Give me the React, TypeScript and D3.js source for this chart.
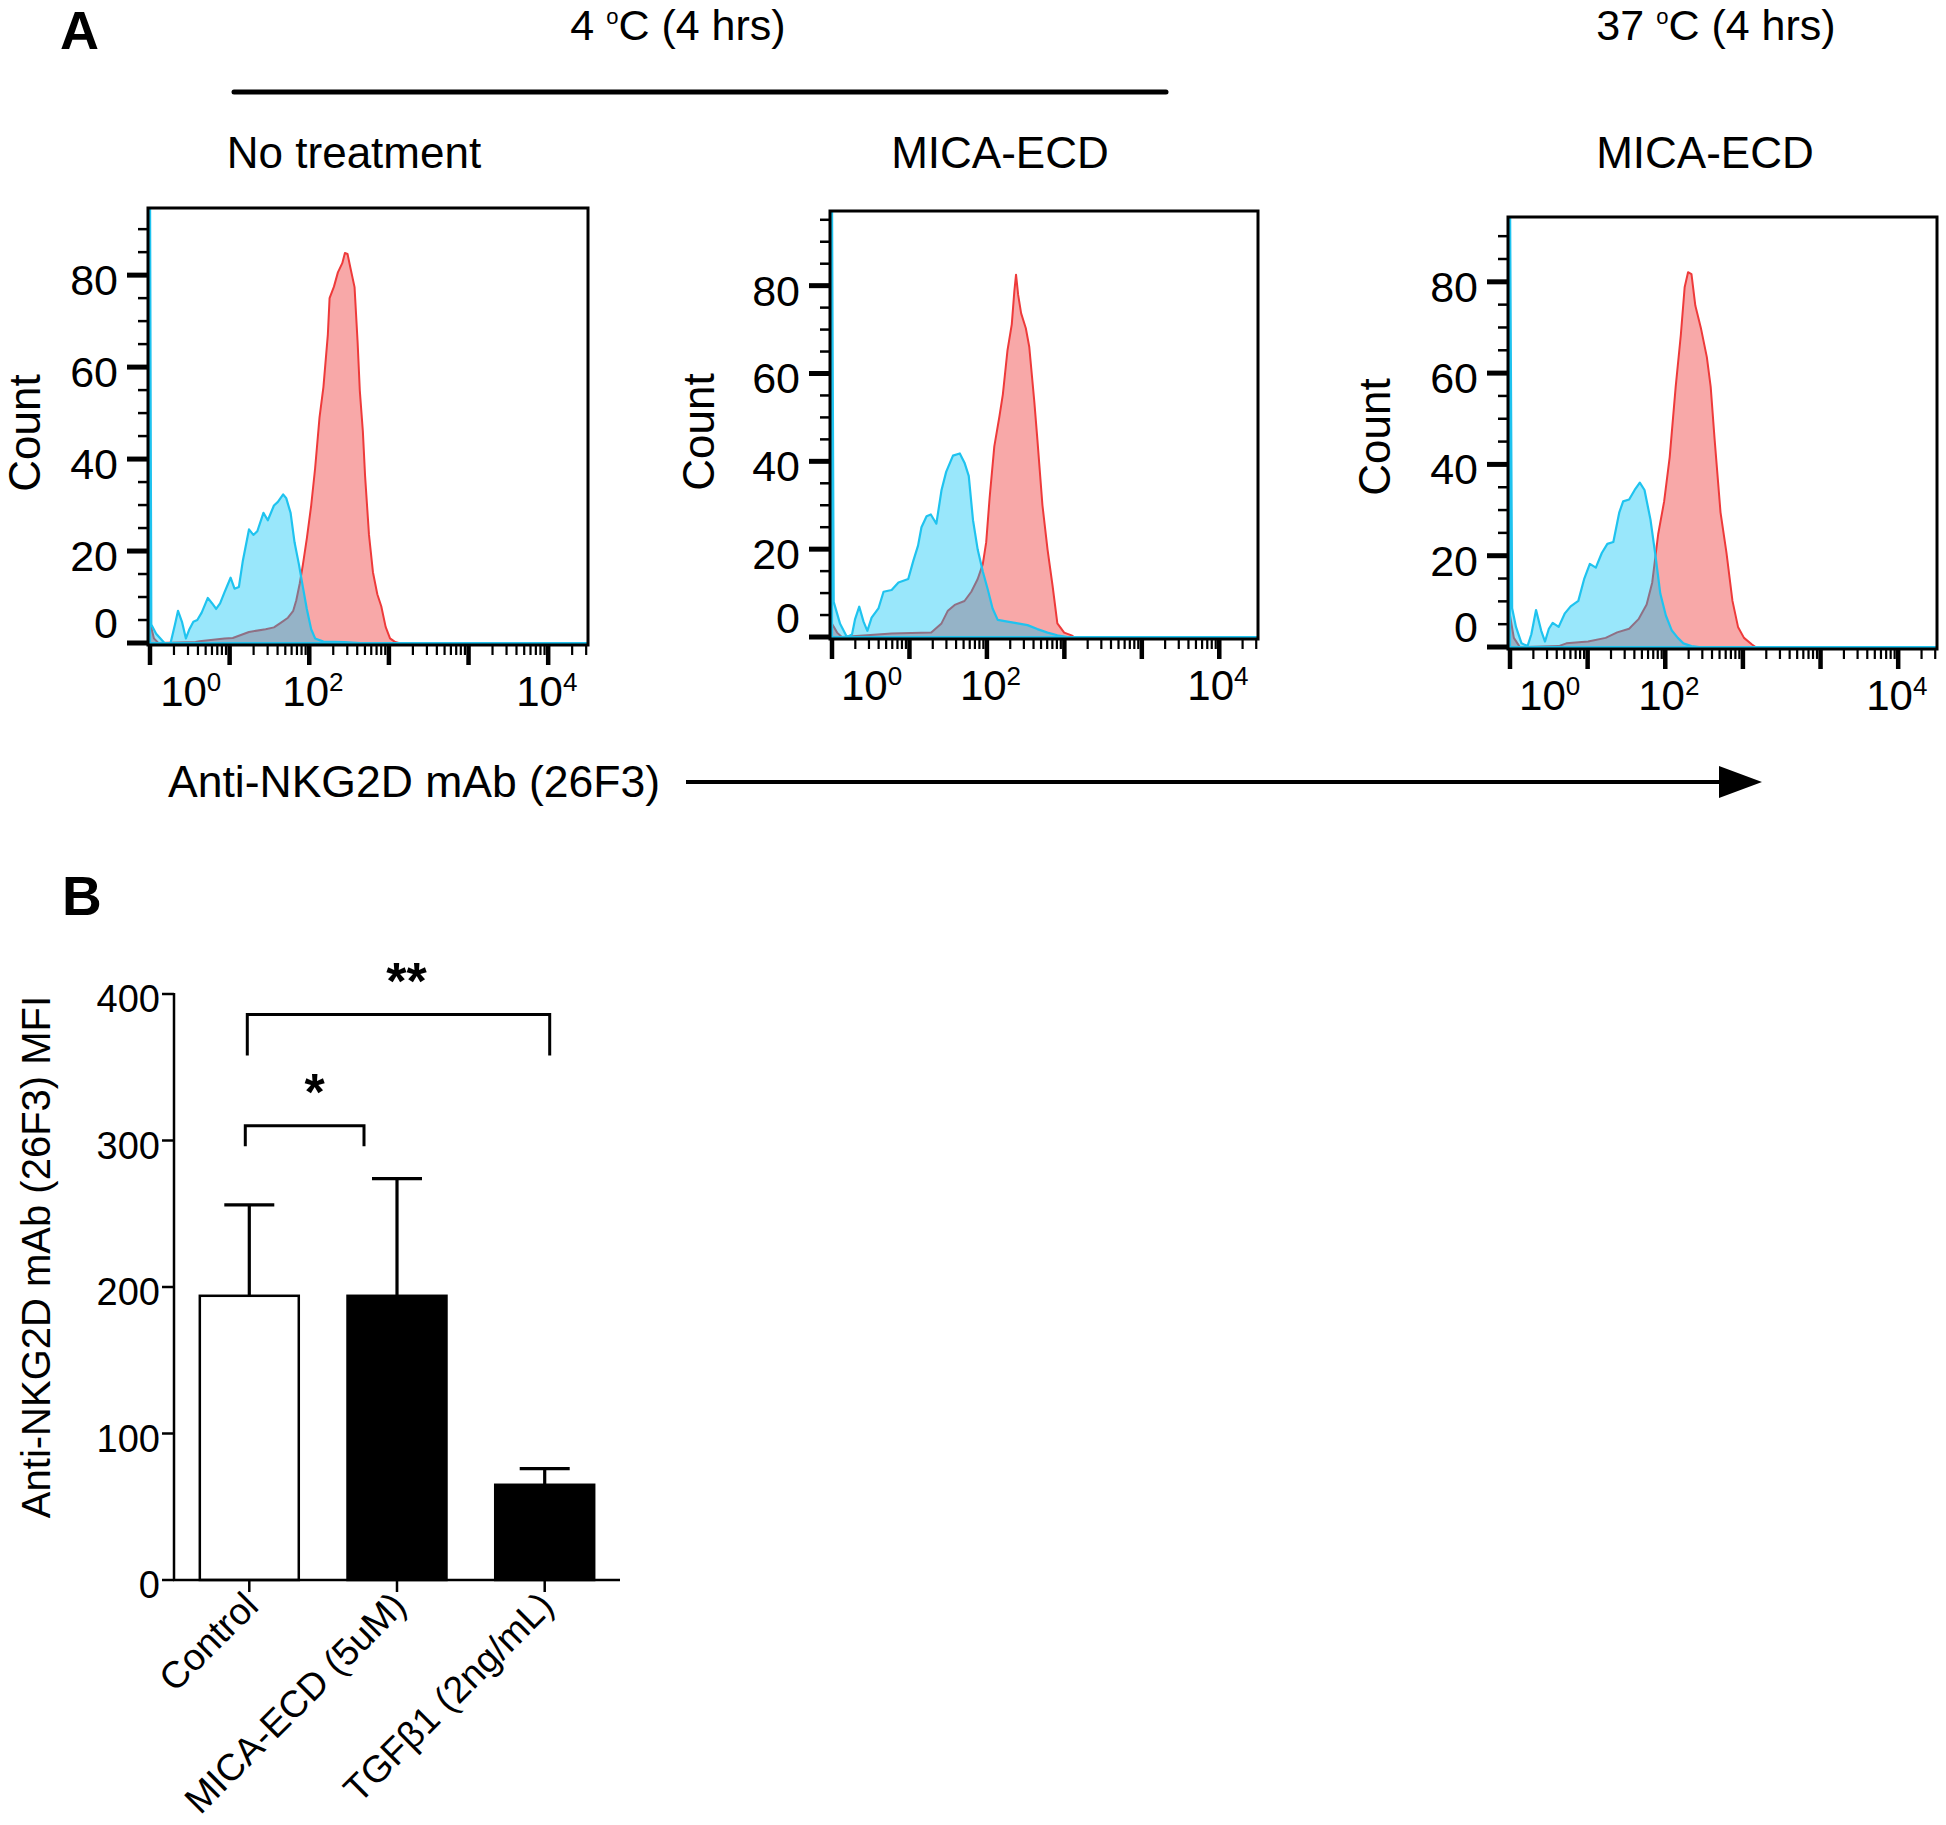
import React from "react";
import * as d3 from "d3";

const FONT = "'Liberation Sans', Arial, Helvetica, sans-serif";

// ---------- Panel A data (flow cytometry histograms) ----------
// x = display channel (0..1000 across the plotted range), y = event count
const panelTitles = ["No treatment", "MICA-ECD", "MICA-ECD"];
const temperatureTitles = [
  { temp: "4", unit: "C", duration: "(4 hrs)" },
  { temp: "37", unit: "C", duration: "(4 hrs)" },
];
const countAxisLabel = "Count";
const countTickLabels = [0, 20, 40, 60, 80];
const xTickLabels = [
  { base: "10", exp: "0", channel: 93 },
  { base: "10", exp: "2", channel: 372 },
  { base: "10", exp: "4", channel: 906 },
];
const markerLabel = "Anti-NKG2D mAb (26F3)";

const noTreatmentIsotype: [number, number][] = [
  [0, 100], [3, 4], [14, 2], [33, 0], [47, 0], [57, 4], [64, 7], [73, 4.6], [82, 1], [90, 3],
  [99, 4.6], [108, 5], [118, 6.6], [132, 9.8], [142, 8.6], [151, 7.4], [160, 8.6], [170, 11],
  [184, 14.2], [193, 11.8], [203, 12.2], [212, 17.9], [226, 24.7], [236, 23.5], [245, 24.3],
  [259, 28.3], [269, 26.7], [283, 29.9], [292, 30.7], [304, 32.3], [311, 31.5], [321, 28.3],
  [330, 21.9], [340, 17.1], [349, 12.2], [358, 7.4], [368, 3], [377, 1], [396, 0.3], [443, 0.2],
  [480, 0], [1000, 0],
];
const noTreatmentStained: [number, number][] = [
  [0, 4.5], [9, 1], [19, 0], [104, 0.2], [113, 0.4], [170, 1], [189, 1.1], [226, 2.4], [264, 3],
  [283, 3.4], [300, 4.5], [315, 5.5], [327, 7], [334, 9.3], [342, 13], [349, 17], [358, 22.7],
  [368, 29.9], [377, 38], [387, 49], [396, 55.7], [406, 67], [410, 75], [420, 77.5], [429, 80.6],
  [439, 82.6], [445, 84.8], [451, 84.6], [458, 81.4], [467, 77.4], [474, 65.4], [479, 54.9],
  [486, 46], [491, 36.4], [500, 23.5], [509, 15.4], [519, 10.6], [528, 8], [538, 3.5], [548, 1],
  [560, 0.2], [568, 0], [1000, 0],
];
const mica4Isotype: [number, number][] = [
  [0, 100], [4, 8], [19, 3], [35, 0], [47, 0.6], [54, 4], [64, 6.9], [74, 3.5], [83, 1.4], [93, 4.4],
  [109, 6.5], [121, 10.3], [140, 10.7], [156, 12.4], [179, 13.2], [191, 17.4], [202, 20.8],
  [210, 25], [222, 27.5], [232, 27.9], [245, 25.8], [257, 33.4], [268, 37.6], [284, 41.3],
  [300, 41.8], [311, 39.7], [321, 36.7], [331, 26.6], [342, 19.9], [354, 14.9], [366, 10.7],
  [377, 6.5], [389, 3.9], [412, 3.5], [436, 3.1], [459, 2.7], [482, 1.8], [506, 1], [529, 0.4],
  [553, 0], [1000, 0],
];
const mica4Stained: [number, number][] = [
  [0, 3], [12, 1], [23, 0], [140, 0.8], [233, 1], [257, 3.1], [272, 6], [288, 7.3], [311, 8.2],
  [327, 10.3], [342, 13.2], [354, 16.6], [362, 21.6], [370, 31.7], [381, 43.4], [393, 50.2],
  [401, 55.2], [412, 65.3], [422, 71.2], [428, 78.7], [432, 82.5], [437, 77.9], [444, 73.7],
  [455, 70.3], [463, 66.1], [475, 53.5], [482, 45.1], [494, 30], [506, 19.9], [518, 11.5],
  [529, 3.1], [545, 1], [564, 0.3], [568, 0], [1000, 0],
];
const mica37Isotype: [number, number][] = [
  [0, 100], [5, 8.5], [14, 4.4], [27, 0.8], [41, 0.2], [50, 2.8], [61, 8.1], [73, 3.6], [82, 1.2],
  [91, 4], [100, 5.3], [114, 4.4], [128, 7.3], [142, 8.9], [160, 10.1], [174, 15], [187, 18.2],
  [201, 17.4], [215, 20.6], [228, 22.6], [242, 23], [256, 29.5], [265, 31.9], [279, 32.3],
  [292, 34.4], [304, 36], [315, 34.4], [329, 27.9], [341, 19.8], [352, 11.7], [365, 6.9],
  [379, 3.6], [393, 2], [406, 0.8], [425, 0.2], [443, 0], [1000, 0],
];
const mica37Stained: [number, number][] = [
  [0, 6.9], [9, 2], [23, 0], [114, 0.2], [132, 0.8], [183, 1.2], [224, 2], [251, 3.2], [279, 4],
  [301, 6.1], [320, 9.3], [333, 14.1], [347, 24.7], [361, 31.9], [374, 41.6], [388, 57],
  [400, 68.3], [409, 78.8], [417, 82.1], [425, 81.7], [434, 74.8], [447, 69.9], [461, 63.5],
  [470, 57], [479, 45.7], [493, 29.5], [507, 20.6], [521, 10.1], [534, 4.4], [548, 2],
  [566, 0.6], [575, 0], [1000, 0],
];
const isotypeSeries = [noTreatmentIsotype, mica4Isotype, mica37Isotype];
const stainedSeries = [noTreatmentStained, mica4Stained, mica37Stained];
const countMax = [94.6, 97, 94.2];

// ---------- Panel B data (bar chart) ----------
const groups = ["Control", "MICA-ECD (5uM)", "TGFβ1 (2ng/mL)"];
const mfiMean = [194, 194, 65];
const mfiSD = [62, 80, 11];
const mfiTicks = [0, 100, 200, 300, 400];
const mfiAxisLabel = "Anti-NKG2D mAb (26F3) MFI";
const significance = [
  { from: 0, to: 1, level: 310, drop: 296, label: "*" },
  { from: 0, to: 2, level: 386, drop: 358, label: "**" },
];

// ---------- layout / style ----------
const panelLayout = [
  { left: 148, top: 208, right: 588, bottom: 645, titleX: 354, countX: 40, countY: 433 },
  { left: 830, top: 211, right: 1258, bottom: 639, titleX: 1000, countX: 714, countY: 432 },
  { left: 1508, top: 217, right: 1937, bottom: 649, titleX: 1705, countX: 1390, countY: 437 },
];
const tempLayout = [{ x: 678 }, { x: 1716 }];
const bracketLayout = [{ dx1: -4, dx2: -33, starDx: 10 }, { dx1: -2, dx2: 5, starDx: 8 }];
const barFill = ["#ffffff", "#000000", "#000000"];

const BLUE_STROKE = "#1fc3ef";
const BLUE_FILL = "rgba(0,196,245,0.4)";
const RED_STROKE = "#ee3a3a";
const RED_FILL = "#f8a8a8";

function HistPanel({ i }: { i: number }) {
  const L = panelLayout[i];
  const x = d3.scaleLinear().domain([0, 1000]).range([L.left + 2, L.right]);
  const y = d3.scaleLinear().domain([0, countMax[i]]).range([L.bottom - 2, L.top]);
  const ruler = d3.scaleLog().domain([1, Math.pow(10, 5.5)]).range([L.left + 2, L.right]);
  const area = d3
    .area<[number, number]>()
    .x((d) => x(d[0]))
    .y0(y(0))
    .y1((d) => y(d[1]));
  const rulerTicks: { v: number; major: boolean }[] = [];
  for (let dec = 0; dec <= 5; dec++) {
    for (let m = 1; m <= 9; m++) {
      const v = m * Math.pow(10, dec);
      if (v <= Math.pow(10, 5.5)) rulerTicks.push({ v, major: m === 1 });
    }
  }
  const yTicks = d3.range(0, countMax[i], 5);
  const clipId = `clip-${i}`;
  return (
    <g>
      <defs>
        <clipPath id={clipId}>
          <rect x={L.left} y={L.top} width={L.right - L.left} height={L.bottom - L.top} />
        </clipPath>
      </defs>
      <text x={L.titleX} y={168} fontSize={44} textAnchor="middle" fontFamily={FONT}>
        {panelTitles[i]}
      </text>
      <g clipPath={`url(#${clipId})`}>
        <path d={area(stainedSeries[i]) || ""} fill={RED_FILL} stroke={RED_STROKE} strokeWidth={2} strokeLinejoin="round" />
        <path d={area(isotypeSeries[i]) || ""} fill={BLUE_FILL} stroke={BLUE_STROKE} strokeWidth={2.2} strokeLinejoin="round" />
      </g>
      <rect x={L.left} y={L.top} width={L.right - L.left} height={L.bottom - L.top} fill="none" stroke="#000" strokeWidth={3} />
      {yTicks.map((v) => {
        const major = v % 20 === 0;
        return (
          <line key={v} x1={L.left - (major ? 21 : 10)} x2={L.left} y1={y(v)} y2={y(v)} stroke="#000" strokeWidth={major ? 5 : 2.5} />
        );
      })}
      {countTickLabels.map((v) => {
        const pos = v === 0 ? y(5.5) : y(v);
        return (
          <text key={v} x={L.left - 30} y={pos + 20} fontSize={43} textAnchor="end" fontFamily={FONT}>
            {v}
          </text>
        );
      })}
      {rulerTicks.map((t) => (
        <line key={t.v} x1={ruler(t.v)} x2={ruler(t.v)} y1={L.bottom} y2={L.bottom + (t.major ? 20 : 10)} stroke="#000" strokeWidth={t.major ? 4.5 : 2.2} />
      ))}
      {xTickLabels.map((t) => (
        <text key={t.exp} x={x(t.channel)} y={L.bottom + 61} fontSize={42} textAnchor="middle" fontFamily={FONT}>
          {t.base}
          <tspan fontSize={26} dy={-15}>{t.exp}</tspan>
        </text>
      ))}
      <text transform={`translate(${L.countX},${L.countY}) rotate(-90)`} fontSize={44} textAnchor="middle" fontFamily={FONT}>
        {countAxisLabel}
      </text>
    </g>
  );
}

function BarPanel() {
  const yB = d3.scaleLinear().domain([0, 400]).range([1580, 994]);
  const xB = d3.scaleBand<string>().domain(groups).range([175, 619]).paddingInner(0.33).paddingOuter(0.168);
  const bw = xB.bandwidth();
  const cx = (k: number) => (xB(groups[k]) as number) + bw / 2;
  return (
    <g fontFamily={FONT}>
      <text x={62} y={915} fontSize={55} fontWeight="bold">B</text>
      {groups.map((g, k) => (
        <rect key={g} x={xB(g)} y={yB(mfiMean[k])} width={bw} height={yB(0) - yB(mfiMean[k])} fill={barFill[k]} stroke="#000" strokeWidth={2.5} />
      ))}
      {groups.map((g, k) => (
        <g key={g + "err"} stroke="#000" strokeWidth={3.2}>
          <line x1={cx(k)} x2={cx(k)} y1={yB(mfiMean[k])} y2={yB(mfiMean[k] + mfiSD[k])} />
          <line x1={cx(k) - 25} x2={cx(k) + 25} y1={yB(mfiMean[k] + mfiSD[k])} y2={yB(mfiMean[k] + mfiSD[k])} />
        </g>
      ))}
      <line x1={174} x2={174} y1={yB(400) - 1} y2={yB(0)} stroke="#000" strokeWidth={2.5} />
      <line x1={173} x2={620} y1={yB(0)} y2={yB(0)} stroke="#000" strokeWidth={2.5} />
      {mfiTicks.map((t) => (
        <g key={t}>
          <line x1={162} x2={174} y1={yB(t)} y2={yB(t)} stroke="#000" strokeWidth={2.5} />
          <text x={160} y={yB(t) + 18} fontSize={38} textAnchor="end">{t}</text>
        </g>
      ))}
      {groups.map((g, k) => (
        <g key={g + "lab"}>
          <line x1={cx(k)} x2={cx(k)} y1={yB(0)} y2={yB(0) + 12} stroke="#000" strokeWidth={2.5} />
          <text transform={`translate(${cx(k) + 11},${yB(0) + 28}) rotate(-45)`} fontSize={37.5} textAnchor="end">{g}</text>
        </g>
      ))}
      <text transform={`translate(50,1257) rotate(-90)`} fontSize={40} textAnchor="middle">{mfiAxisLabel}</text>
      {significance.map((s, k) => {
        const x1 = cx(s.from) + bracketLayout[k].dx1;
        const x2 = cx(s.to) + bracketLayout[k].dx2;
        return (
          <g key={k}>
            <path d={`M${x1},${yB(s.drop)}V${yB(s.level)}H${x2}V${yB(s.drop)}`} fill="none" stroke="#000" strokeWidth={3} />
            <text x={(x1 + x2) / 2 + bracketLayout[k].starDx} y={yB(s.level) - 16} fontSize={52} fontWeight="bold" textAnchor="middle">{s.label}</text>
          </g>
        );
      })}
    </g>
  );
}

export default function App() {
  return (
    <svg width={1946} height={1825} style={{ position: "absolute", left: 0, top: 0, display: "block", background: "#fff" }}>
      <rect x={0} y={0} width={1946} height={1825} fill="#fff" />
      <text x={60} y={49} fontSize={54} fontWeight="bold" fontFamily={FONT}>A</text>
      {temperatureTitles.map((t, k) => (
        <text key={k} x={tempLayout[k].x} y={40} fontSize={43} textAnchor="middle" fontFamily={FONT}>
          {t.temp + " "}
          <tspan fontSize={22} dy={-16}>o</tspan>
          <tspan dy={16}>{t.unit + " " + t.duration}</tspan>
        </text>
      ))}
      <line x1={234} x2={1166} y1={92} y2={92} stroke="#000" strokeWidth={5} strokeLinecap="round" />
      {panelLayout.map((_, i) => (
        <HistPanel key={i} i={i} />
      ))}
      <text x={168} y={797} fontSize={44.5} fontFamily={FONT}>{markerLabel}</text>
      <line x1={686} x2={1722} y1={782} y2={782} stroke="#000" strokeWidth={4} />
      <polygon points="1719,766 1762,782 1719,798" fill="#000" />
      <BarPanel />
    </svg>
  );
}
